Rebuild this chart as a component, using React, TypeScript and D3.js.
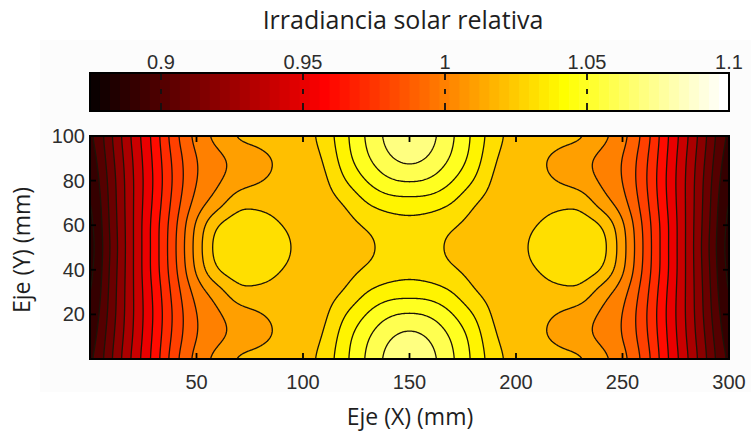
import React, { useMemo } from "react";
import * as d3 from "d3";

// ---- data (relative solar irradiance, mm grid) ----
const xValues = [0, 10, 20, 30, 40, 50, 60, 70, 80, 90, 100, 110, 120, 130, 140, 150, 160, 170, 180, 190, 200, 210, 220, 230, 240, 250, 260, 270, 280, 290, 300];
const yValues = [0, 10, 20, 30, 40, 50, 60, 70, 80, 90, 100];

const rowY0 = [0.897, 0.919, 0.942, 0.9635, 0.987, 1.0035, 1.0135, 1.0215, 1.023, 1.0245, 1.026, 1.034, 1.048, 1.0615, 1.073, 1.079, 1.073, 1.0615, 1.048, 1.034, 1.026, 1.0245, 1.023, 1.0215, 1.0135, 1.0035, 0.987, 0.9635, 0.942, 0.919, 0.897];
const rowY10 = [0.894, 0.917, 0.94, 0.962, 0.984, 1.0, 1.0075, 1.0135, 1.018, 1.0215, 1.0245, 1.031, 1.046, 1.0585, 1.0685, 1.073, 1.0685, 1.0585, 1.046, 1.031, 1.0245, 1.0215, 1.018, 1.0135, 1.0075, 1.0, 0.984, 0.962, 0.94, 0.917, 0.894];
const rowY20 = [0.891, 0.915, 0.939, 0.961, 0.983, 1.0, 1.0085, 1.0155, 1.0195, 1.022, 1.0235, 1.028, 1.04, 1.0505, 1.0585, 1.061, 1.0585, 1.0505, 1.04, 1.028, 1.0235, 1.022, 1.0195, 1.0155, 1.0085, 1.0, 0.983, 0.961, 0.939, 0.915, 0.891];
const rowY30 = [0.888, 0.914, 0.939, 0.962, 0.985, 1.004, 1.0155, 1.0268, 1.0268, 1.025, 1.024, 1.026, 1.031, 1.04, 1.045, 1.046, 1.045, 1.04, 1.031, 1.026, 1.024, 1.025, 1.0268, 1.0268, 1.0155, 1.004, 0.985, 0.962, 0.939, 0.914, 0.888];
const rowY40 = [0.886, 0.913, 0.939, 0.964, 0.988, 1.012, 1.03, 1.0355, 1.0355, 1.03, 1.025, 1.025, 1.027, 1.031, 1.0345, 1.0365, 1.0345, 1.031, 1.027, 1.025, 1.025, 1.03, 1.0355, 1.0355, 1.03, 1.012, 0.988, 0.964, 0.939, 0.913, 0.886];
const rowY50 = [0.885, 0.912, 0.939, 0.964, 0.989, 1.014, 1.0345, 1.0385, 1.0385, 1.0345, 1.025, 1.0245, 1.026, 1.0285, 1.032, 1.033, 1.032, 1.0285, 1.026, 1.0245, 1.025, 1.0345, 1.0385, 1.0385, 1.0345, 1.014, 0.989, 0.964, 0.939, 0.912, 0.885];
const rowY60 = [0.886, 0.913, 0.939, 0.964, 0.988, 1.012, 1.03, 1.0355, 1.0355, 1.03, 1.025, 1.025, 1.027, 1.031, 1.0345, 1.0365, 1.0345, 1.031, 1.027, 1.025, 1.025, 1.03, 1.0355, 1.0355, 1.03, 1.012, 0.988, 0.964, 0.939, 0.913, 0.886];
const rowY70 = [0.888, 0.914, 0.939, 0.962, 0.985, 1.004, 1.0155, 1.0268, 1.0268, 1.025, 1.024, 1.026, 1.031, 1.04, 1.045, 1.046, 1.045, 1.04, 1.031, 1.026, 1.024, 1.025, 1.0268, 1.0268, 1.0155, 1.004, 0.985, 0.962, 0.939, 0.914, 0.888];
const rowY80 = [0.891, 0.915, 0.939, 0.961, 0.983, 1.0, 1.0085, 1.0155, 1.0195, 1.022, 1.0235, 1.028, 1.04, 1.0505, 1.0585, 1.061, 1.0585, 1.0505, 1.04, 1.028, 1.0235, 1.022, 1.0195, 1.0155, 1.0085, 1.0, 0.983, 0.961, 0.939, 0.915, 0.891];
const rowY90 = [0.894, 0.917, 0.94, 0.962, 0.984, 1.0, 1.0075, 1.0135, 1.018, 1.0215, 1.0245, 1.031, 1.046, 1.0585, 1.0685, 1.073, 1.0685, 1.0585, 1.046, 1.031, 1.0245, 1.0215, 1.018, 1.0135, 1.0075, 1.0, 0.984, 0.962, 0.94, 0.917, 0.894];
const rowY100 = [0.897, 0.919, 0.942, 0.9635, 0.987, 1.0035, 1.0135, 1.0215, 1.023, 1.0245, 1.026, 1.034, 1.048, 1.0615, 1.073, 1.079, 1.073, 1.0615, 1.048, 1.034, 1.026, 1.0245, 1.023, 1.0215, 1.0135, 1.0035, 0.987, 0.9635, 0.942, 0.919, 0.897];

const contourLevels = [0.89, 0.9, 0.91, 0.92, 0.93, 0.94, 0.95, 0.96, 0.97, 0.98, 0.99, 1.0, 1.01, 1.02, 1.03, 1.04, 1.05, 1.06, 1.07];
const colorLimits = [0.875, 1.1];
const colorbarTicks = [0.9, 0.95, 1, 1.05, 1.1];
const colorbarTickLabels = ["0.9", "0.95", "1", "1.05", "1.1"];
const xTicks = [50, 100, 150, 200, 250, 300];
const yTicks = [20, 40, 60, 80, 100];

const titleText = "Irradiancia solar relativa";
const xLabel = "Eje (X) (mm)";
const yLabel = "Eje (Y) (mm)";

// ---- layout ----
const W = 751;
const H = 438;
const plot = { left: 90, right: 729, top: 136, bottom: 359 };
const cbar = { left: 90, right: 729, top: 73, bottom: 111 };

const tickFont = "'Liberation Sans', Arial, Helvetica, sans-serif";
const labelFont = "'Open Sans', 'Noto Sans', sans-serif";

function hotIndex(i: number): string {
  const c = (a: number) => Math.max(0, Math.min(1, a));
  const r = c(i / 24);
  const g = c((i - 24) / 24);
  const b = c((i - 48) / 16);
  return d3.rgb(r * 255, g * 255, b * 255).formatHex();
}
function hotColor(v: number): string {
  const [lo, hi] = colorLimits;
  let i = Math.floor(((v - lo) / (hi - lo)) * 64) + 1;
  i = Math.max(1, Math.min(64, i));
  return hotIndex(i);
}

// Catmull-Rom bicubic resampling of the read grid (for smooth contour drawing)
function cubic(p0: number, p1: number, p2: number, p3: number, t: number) {
  return (
    p1 +
    0.5 * t * (p2 - p0 + t * (2 * p0 - 5 * p1 + 4 * p2 - p3 + t * (3 * (p1 - p2) + p3 - p0)))
  );
}

// light gaussian smoothing of the resampled surface (display only)
function blur(src: number[], w: number, h: number, sigma: number): number[] {
  const rad = Math.ceil(sigma * 3);
  const k: number[] = [];
  let sum = 0;
  for (let i = -rad; i <= rad; i++) {
    const v = Math.exp(-(i * i) / (2 * sigma * sigma));
    k.push(v);
    sum += v;
  }
  for (let i = 0; i < k.length; i++) k[i] /= sum;
  const tmp = new Array(w * h);
  for (let r = 0; r < h; r++) {
    for (let c = 0; c < w; c++) {
      let acc = 0;
      for (let q = -rad; q <= rad; q++) {
        const cc = Math.max(0, Math.min(w - 1, c + q));
        acc += src[r * w + cc] * k[q + rad];
      }
      tmp[r * w + c] = acc;
    }
  }
  const out = new Array(w * h);
  for (let r = 0; r < h; r++) {
    for (let c = 0; c < w; c++) {
      let acc = 0;
      for (let q = -rad; q <= rad; q++) {
        const rr = Math.max(0, Math.min(h - 1, r + q));
        acc += tmp[rr * w + c] * k[q + rad];
      }
      out[r * w + c] = acc;
    }
  }
  return out;
}

export default function App() {
  const grid = [rowY0, rowY10, rowY20, rowY30, rowY40, rowY50, rowY60, rowY70, rowY80, rowY90, rowY100];

  const x = d3.scaleLinear().domain([xValues[0], xValues[xValues.length - 1]]).range([plot.left, plot.right]);
  const y = d3.scaleLinear().domain([yValues[0], yValues[yValues.length - 1]]).range([plot.bottom, plot.top]);
  const cb = d3.scaleLinear().domain(colorLimits).range([cbar.left, cbar.right]);

  const { bands, dataMin } = useMemo(() => {
    const nx = xValues.length;
    const ny = yValues.length;
    const dxg = xValues[1] - xValues[0];
    const dyg = yValues[1] - yValues[0];
    const step = 0.5;
    const fx = Math.round((xValues[nx - 1] - xValues[0]) / step) + 1;
    const fy = Math.round((yValues[ny - 1] - yValues[0]) / step) + 1;
    const at = (j: number, i: number) => {
      const jj = Math.max(0, Math.min(ny - 1, j));
      const ii = Math.max(0, Math.min(nx - 1, i));
      return grid[jj][ii];
    };
    const values: number[] = new Array(fx * fy);
    for (let r = 0; r < fy; r++) {
      const gy = (r * step) / dyg;
      const j = Math.min(ny - 2, Math.floor(gy));
      const ty = gy - j;
      for (let c = 0; c < fx; c++) {
        const gx = (c * step) / dxg;
        const i = Math.min(nx - 2, Math.floor(gx));
        const tx = gx - i;
        const rowsV = [-1, 0, 1, 2].map((kk) =>
          cubic(at(j + kk, i - 1), at(j + kk, i), at(j + kk, i + 1), at(j + kk, i + 2), tx)
        );
        values[r * fx + c] = cubic(rowsV[0], rowsV[1], rowsV[2], rowsV[3], ty);
      }
    }
    const smooth = blur(values, fx, fy, 2.5 / step);
    const mn = d3.min(smooth) as number;
    const contours = d3.contours().size([fx, fy]).thresholds(contourLevels)(smooth);
    const proj = d3.geoTransform({
      point: function (px: number, py: number) {
        const xv = xValues[0] + (px - 0.5) * step;
        const yv = yValues[0] + (py - 0.5) * step;
        (this as any).stream.point(x(xv), y(yv));
      },
    });
    const path = d3.geoPath(proj);
    const b = contours.map((cc) => ({ level: cc.value, d: path(cc as any) || "" }));
    return { bands: b, dataMin: mn };
  }, []);

  const cbSteps = d3.range(1, 65);

  return (
    <svg
      width={W}
      height={H}
      viewBox={`0 0 ${W} ${H}`}
      style={{ position: "absolute", left: 0, top: 0, background: "#ffffff" }}
    >
      <defs>
        <clipPath id="plotClip">
          <rect x={plot.left} y={plot.top} width={plot.right - plot.left} height={plot.bottom - plot.top} />
        </clipPath>
      </defs>
      <rect x={40} y={40} width={W - 40} height={352} fill="#fcfcfc" />

      {/* title */}
      <text x={403} y={29} textAnchor="middle" fontFamily={labelFont} fontSize={25} fill="#1e1e1e">
        {titleText}
      </text>

      {/* colorbar */}
      <g>
        {cbSteps.map((i) => {
          const x0 = cbar.left + ((i - 1) / 64) * (cbar.right - cbar.left);
          const x1 = cbar.left + (i / 64) * (cbar.right - cbar.left);
          return (
            <rect key={i} x={x0} y={cbar.top} width={x1 - x0 + 0.6} height={cbar.bottom - cbar.top} fill={hotIndex(i)} />
          );
        })}
        {colorbarTicks.map((t, k) => (
          <g key={k}>
            {t < colorLimits[1] && (
              <line
                x1={cb(t)}
                x2={cb(t)}
                y1={cbar.top}
                y2={cbar.bottom}
                stroke="#111"
                strokeWidth={1.8}
                strokeDasharray="7 9 5 9 8"
              />
            )}
            <text x={cb(t)} y={69} textAnchor="middle" fontFamily={tickFont} fontSize={20} fill="#2d2d2d">
              {colorbarTickLabels[k]}
            </text>
          </g>
        ))}
        <rect
          x={cbar.left}
          y={cbar.top}
          width={cbar.right - cbar.left}
          height={cbar.bottom - cbar.top}
          fill="none"
          stroke="#000"
          strokeWidth={2}
        />
      </g>

      {/* filled contours */}
      <g clipPath="url(#plotClip)">
        <rect
          x={plot.left}
          y={plot.top}
          width={plot.right - plot.left}
          height={plot.bottom - plot.top}
          fill={hotColor(dataMin)}
        />
        {bands.map((f, k) => (
          <path key={k} d={f.d} fill={hotColor(f.level)} stroke="none" />
        ))}
        {bands.map((f, k) => (
          <path key={"l" + k} d={f.d} fill="none" stroke="#1c1408" strokeWidth={1.3} />
        ))}
      </g>

      {/* ticks */}
      {xTicks
        .filter((t) => t < 300)
        .map((t) => (
          <g key={"xt" + t}>
            <line x1={x(t)} x2={x(t)} y1={plot.bottom} y2={plot.bottom - 6} stroke="#000" strokeWidth={1.8} />
            <line x1={x(t)} x2={x(t)} y1={plot.top} y2={plot.top + 6} stroke="#000" strokeWidth={1.8} />
          </g>
        ))}
      {yTicks
        .filter((t) => t < 100)
        .map((t) => (
          <g key={"yt" + t}>
            <line x1={plot.left} x2={plot.left + 6} y1={y(t)} y2={y(t)} stroke="#000" strokeWidth={1.8} />
            <line x1={plot.right} x2={plot.right - 6} y1={y(t)} y2={y(t)} stroke="#000" strokeWidth={1.8} />
          </g>
        ))}
      <rect
        x={plot.left}
        y={plot.top}
        width={plot.right - plot.left}
        height={plot.bottom - plot.top}
        fill="none"
        stroke="#000"
        strokeWidth={2}
      />

      {/* tick labels */}
      {xTicks.map((t) => (
        <text key={"xl" + t} x={x(t)} y={389} textAnchor="middle" fontFamily={tickFont} fontSize={20} fill="#2d2d2d">
          {t}
        </text>
      ))}
      {yTicks.map((t) => (
        <text key={"yl" + t} x={85} y={y(t) + 7} textAnchor="end" fontFamily={tickFont} fontSize={20} fill="#2d2d2d">
          {t}
        </text>
      ))}

      {/* axis labels */}
      <text x={410} y={425} textAnchor="middle" fontFamily={labelFont} fontSize={23} fill="#1e1e1e">
        {xLabel}
      </text>
      <text
        transform={`translate(30, 250) rotate(-90)`}
        textAnchor="middle"
        fontFamily={labelFont}
        fontSize={23}
        fill="#1e1e1e"
      >
        {yLabel}
      </text>
    </svg>
  );
}
